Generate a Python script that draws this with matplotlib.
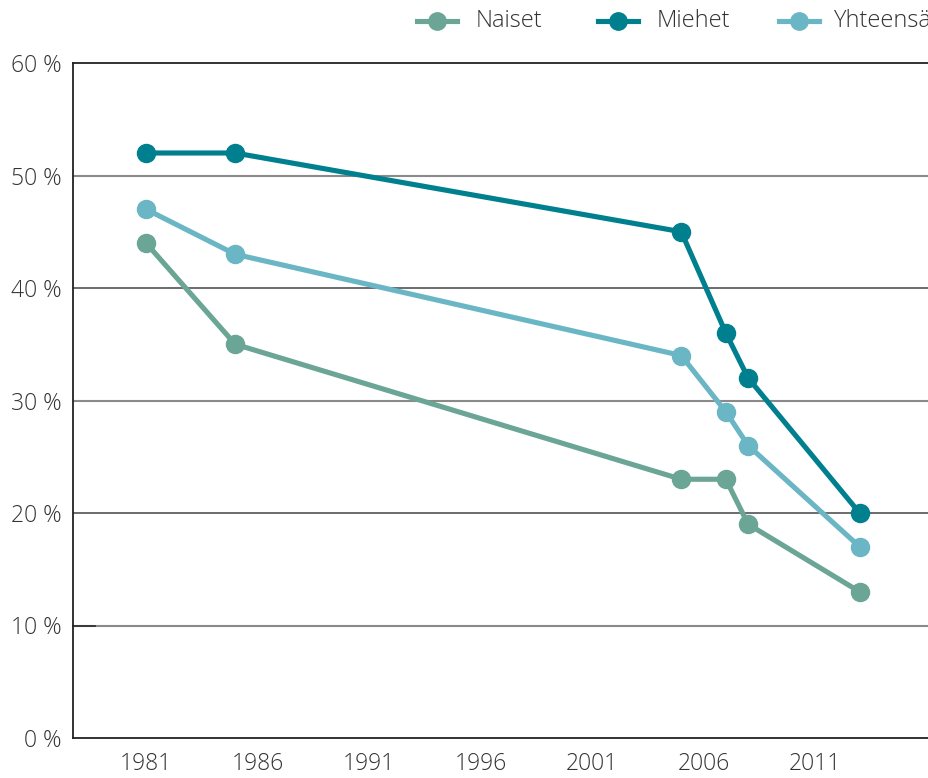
import matplotlib
matplotlib.use("Agg")
import matplotlib.pyplot as plt
from matplotlib.lines import Line2D

years = [1981, 1985, 2005, 2007, 2008, 2013]
naiset = [44, 35, 23, 23, 19, 13]
miehet = [52, 52, 45, 36, 32, 20]
yhteensa = [47, 43, 34, 29, 26, 17]
series_labels = ["Naiset", "Miehet", "Yhteensä"]
colors = ["#6BA595", "#00808F", "#6AB6C4"]
xticks = [1981, 1986, 1991, 1996, 2001, 2006, 2011]
yticks = [0, 10, 20, 30, 40, 50, 60]

plt.rcParams['font.family'] = ['Open Sans', 'DejaVu Sans']

W, H = 929, 778
fig = plt.figure(figsize=(W / 100, H / 100), dpi=100)
ax = fig.add_axes([73/W, 1 - 738/H, 1 - 73/W, (738 - 63)/H])

for vals, lab, c in zip([naiset, miehet, yhteensa], series_labels, colors):
    ax.plot(years, vals, color=c, lw=3.7, marker='o', ms=13, label=lab,
            solid_capstyle='round', zorder=3)

ax.set_xlim(1977.726, 2016.11)
ax.set_ylim(0, 60)
ax.set_xticks(xticks)
ax.set_xticklabels([str(x) for x in xticks])
ax.set_yticks(yticks)
ax.set_yticklabels([f"{y} %" for y in yticks])
ax.tick_params(axis='both', length=0, labelsize=16.5, colors='#333333')
ax.tick_params(axis='x', pad=10)
ax.tick_params(axis='y', pad=8)
for t in ax.get_xticklabels() + ax.get_yticklabels():
    t.set_fontweight('light')

grid_styles = {10: ('#8a8a8a', 1.5), 20: ('#444444', 1.1), 30: ('#8a8a8a', 1.5),
               40: ('#444444', 1.1), 50: ('#8a8a8a', 1.5)}
for y in yticks[1:-1]:
    c, w = grid_styles[y]
    ax.axhline(y, color=c, lw=w, zorder=1)
ax.plot([1977.726, 1978.7], [10, 10], color='#333333', lw=1.3, zorder=1, clip_on=False)

ax.spines['right'].set_visible(False)
for s in ['left', 'bottom', 'top']:
    ax.spines[s].set_color('#222222')
    ax.spines[s].set_linewidth(1.3)

# legend entries placed manually (handle span in px, text start in px)
leg_handles = [(417, 457, 476), (598, 638, 657), (779, 819, 833)]
ly = 1 - 21 / H
for (x0, x1, tx), lab, c in zip(leg_handles, series_labels, colors):
    fig.add_artist(Line2D([x0 / W, x1 / W], [ly, ly], color=c, lw=3.7,
                          transform=fig.transFigure))
    fig.add_artist(Line2D([(x0 + x1) / 2 / W], [ly], color=c, marker='o', ms=12.5,
                          lw=0, transform=fig.transFigure))
    fig.text(tx / W, ly, lab, ha='left', va='center', fontsize=17,
             fontweight='light', color='#333333')

fig.savefig("out.png", dpi=100)
